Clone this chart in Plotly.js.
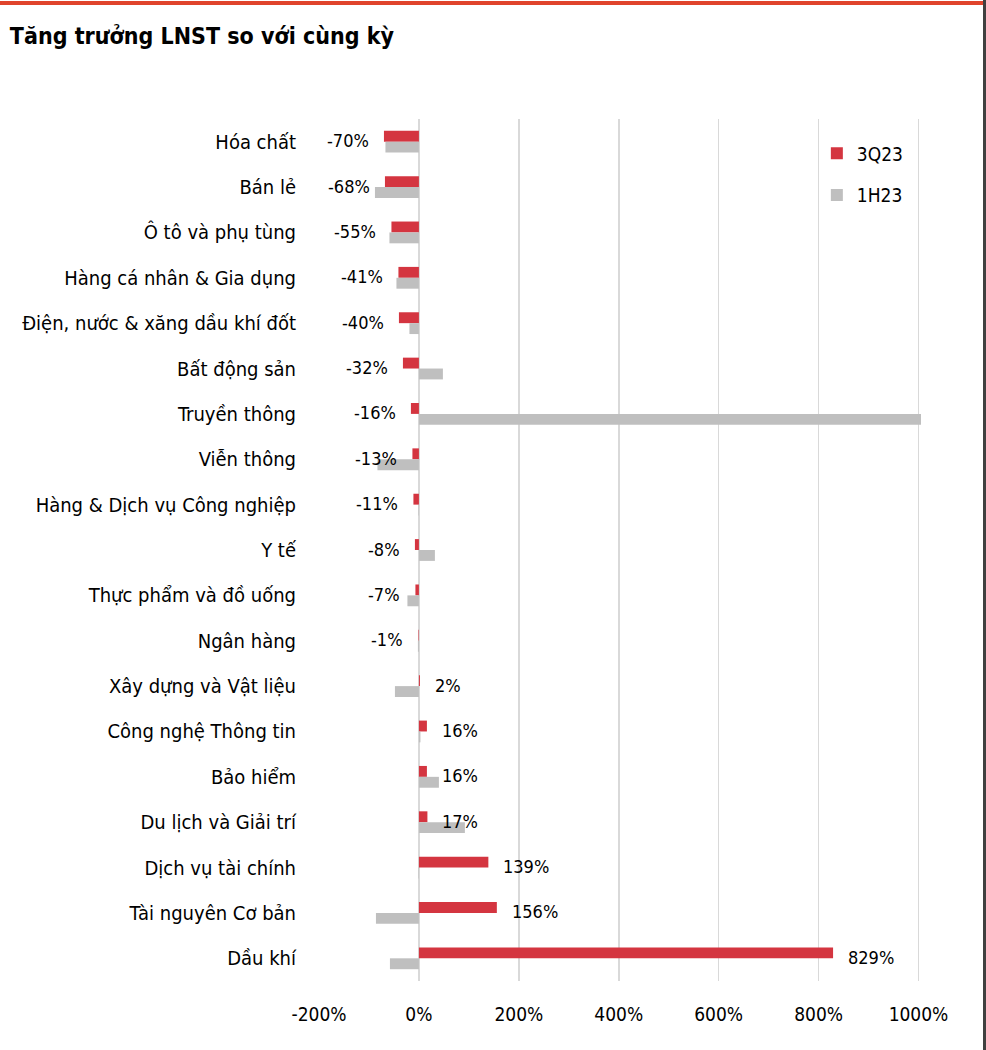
<!DOCTYPE html>
<html>
<head>
<meta charset="utf-8">
<script src="https://cdn.plot.ly/plotly-3.0.1.min.js"></script>
<style>
  html, body { margin: 0; padding: 0; background: #fff; }
  #wrap { position: relative; width: 986px; height: 1050px; overflow: hidden; }
  #topbar { position: absolute; left: 0; top: 1px; width: 983px; height: 4px; background: #e0442c; }
  #rightbar { position: absolute; left: 983px; top: 0; width: 3px; height: 1050px; background: #404040; }
  #chart { position: absolute; left: 0; top: 0; width: 986px; height: 1050px; }
</style>
</head>
<body>
<div id="wrap">
  <div id="chart"></div>
  <div id="topbar"></div>
  <div id="rightbar"></div>
</div>
<script>
const categories = [
  "Hóa chất", "Bán lẻ", "Ô tô và phụ tùng", "Hàng cá nhân & Gia dụng",
  "Điện, nước & xăng dầu khí đốt", "Bất động sản", "Truyền thông", "Viễn thông",
  "Hàng & Dịch vụ Công nghiệp", "Y tế", "Thực phẩm và đồ uống", "Ngân hàng",
  "Xây dựng và Vật liệu", "Công nghệ Thông tin", "Bảo hiểm", "Du lịch và Giải trí",
  "Dịch vụ tài chính", "Tài nguyên Cơ bản", "Dầu khí"
];
const q3_23 = [-70, -68, -55, -41, -40, -32, -16, -13, -11, -8, -7, -1, 2, 16, 16, 17, 139, 156, 829];
const h1_23 = [-67, -88, -59, -45, -19, 48, 1010, -83, -1, 32, -23, -2, -48, 3, 40, 92, -1, -86, -58];
const xTickVals = [-200, 0, 200, 400, 600, 800, 1000];
const xTickText = ["-200%", "0%", "200%", "400%", "600%", "800%", "1000%"];

const FONT = "'Liberation Sans Narrow', 'Arial Narrow', 'DejaVu Sans Condensed', sans-serif";

const traces = [
  {
    type: "bar", orientation: "h", name: "3Q23",
    y: categories, x: q3_23,
    marker: { color: "#d43540" },
    legendgroup: "a", hoverinfo: "x+y"
  },
  {
    type: "bar", orientation: "h", name: "1H23",
    y: categories, x: h1_23,
    marker: { color: "#bfbfbf" },
    legendgroup: "b", hoverinfo: "x+y"
  }
];

const annotations = categories.map((c, i) => {
  const v = q3_23[i];
  return {
    x: v, y: c, xref: "x", yref: "y",
    text: v + "%",
    showarrow: false,
    xanchor: v < 0 ? "right" : "left",
    xshift: v < 0 ? -13 : 13,
    yshift: 1,
    font: { family: FONT, size: 18, color: "#000" }
  };
});

const layout = {
  width: 986, height: 1050,
  margin: { l: 318.5, r: 65, t: 119, b: 69 },
  paper_bgcolor: "#fff", plot_bgcolor: "#fff",
  font: { family: FONT, color: "#000" },
  title: {
    text: "<b>Tăng trưởng LNST so với cùng kỳ</b>",
    x: 0.01, xanchor: "left", xref: "container",
    y: 0.966, yanchor: "middle", yref: "container",
    font: { family: FONT, size: 23, color: "#000" }
  },
  barmode: "group",
  bargap: 0.52,
  bargroupgap: 0,
  xaxis: {
    range: [-200, 1005],
    tickvals: xTickVals, ticktext: xTickText,
    showgrid: true, gridcolor: "#d9d9d9", gridwidth: 1.5,
    zeroline: true, zerolinecolor: "#d9d9d9", zerolinewidth: 1.5,
    showline: false, ticks: "",
    tickfont: { family: FONT, size: 19, color: "#000" },
    ticklabelstandoff: 20,
    fixedrange: true
  },
  yaxis: {
    type: "category",
    autorange: "reversed",
    showgrid: false, zeroline: false, showline: false, ticks: "",
    tickfont: { family: FONT, size: 20, color: "#000" },
    ticklabelstandoff: 22,
    fixedrange: true
  },
  legend: {
    x: 0.827, y: 0.982, xanchor: "left", yanchor: "top",
    xref: "paper", yref: "paper",
    bgcolor: "rgba(0,0,0,0)",
    font: { family: FONT, size: 19, color: "#000" },
    traceorder: "grouped",
    tracegroupgap: 14,
    itemwidth: 30
  },
  annotations: annotations,
  showlegend: true
};

Plotly.newPlot("chart", traces, layout, { displayModeBar: false, staticPlot: true });
</script>
</body>
</html>
